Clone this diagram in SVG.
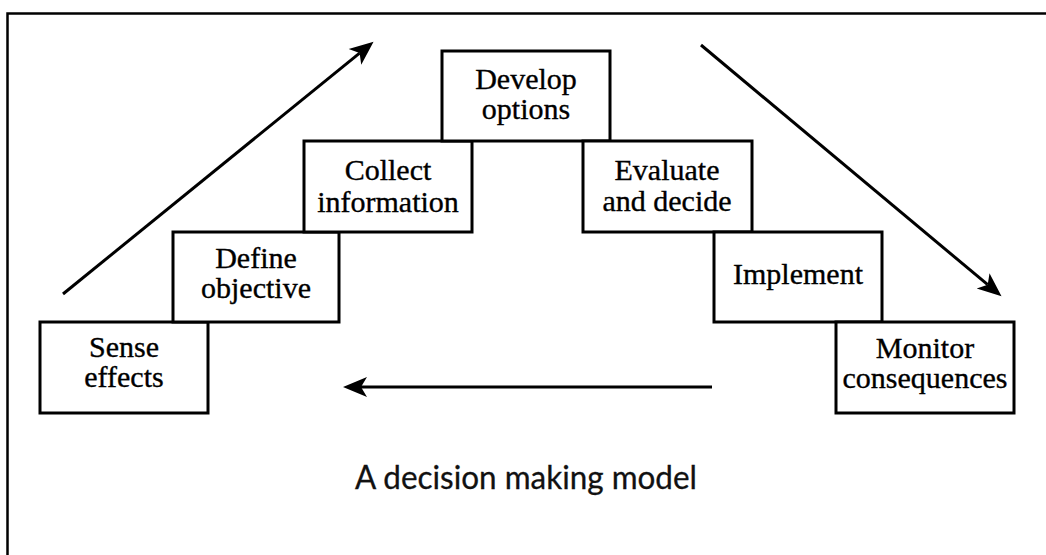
<svg xmlns="http://www.w3.org/2000/svg" width="1046" height="555" viewBox="0 0 1046 555">
  <style>
    .box { fill: #fff; stroke: #000; stroke-width: 3; }
    .lbl { font-family: "Liberation Serif", "Times New Roman", serif; font-size: 30px; fill: #000; stroke: #000; stroke-width: 0.35; text-anchor: middle; }
    .flow { stroke: #000; stroke-width: 3; fill: none; marker-end: url(#head); }
    .caption { font-family: "Lato", "Liberation Sans", sans-serif; font-size: 32px; fill: #111; stroke: #111; stroke-width: 0.3; }
  </style>
  <defs>
    <!-- barbed arrowhead; ref point sits at the notch so the shaft ends inside the head -->
    <marker id="head" markerUnits="userSpaceOnUse" markerWidth="30" markerHeight="24" refX="6" refY="11" orient="auto" viewBox="0 0 30 22">
      <path d="M24,11 L0,1 L6,11 L0,21 Z" fill="#000"/>
    </marker>
  </defs>

  <rect width="1046" height="555" fill="#fff"/>

  <!-- page frame -->
  <path d="M7.5,555 L7.5,13.5 L1046,13.5" fill="none" stroke="#000" stroke-width="2.5"/>

  <!-- connectors -->
  <g id="connectors">
    <line class="flow" x1="63" y1="294" x2="359.6" y2="53.1"/>
    <line class="flow" x1="701" y1="45" x2="987.7" y2="284.7"/>
    <line class="flow" x1="712" y1="387" x2="361" y2="387"/>
  </g>

  <!-- steps -->
  <g id="sense-effects">
    <rect class="box" x="40" y="322" width="168" height="91"/>
    <text class="lbl" x="124" y="357">Sense</text>
    <text class="lbl" x="124" y="387">effects</text>
  </g>
  <g id="define-objective">
    <rect class="box" x="173" y="232" width="166" height="90"/>
    <text class="lbl" x="256" y="268">Define</text>
    <text class="lbl" x="256" y="298">objective</text>
  </g>
  <g id="collect-information">
    <rect class="box" x="304" y="141" width="168" height="91"/>
    <text class="lbl" x="388" y="180">Collect</text>
    <text class="lbl" x="388" y="212">information</text>
  </g>
  <g id="develop-options">
    <rect class="box" x="442" y="51" width="168" height="90"/>
    <text class="lbl" x="526" y="89">Develop</text>
    <text class="lbl" x="526" y="119">options</text>
  </g>
  <g id="evaluate-decide">
    <rect class="box" x="583" y="141" width="169" height="91"/>
    <text class="lbl" x="667" y="180">Evaluate</text>
    <text class="lbl" x="667" y="211">and decide</text>
  </g>
  <g id="implement">
    <rect class="box" x="714" y="232" width="168" height="90"/>
    <text class="lbl" x="798" y="284">Implement</text>
  </g>
  <g id="monitor-consequences">
    <rect class="box" x="836" y="322" width="178" height="91"/>
    <text class="lbl" x="925" y="358">Monitor</text>
    <text class="lbl" x="925" y="388">consequences</text>
  </g>

  <text class="caption" x="355" y="489" textLength="342" lengthAdjust="spacingAndGlyphs">A decision making model</text>
</svg>
